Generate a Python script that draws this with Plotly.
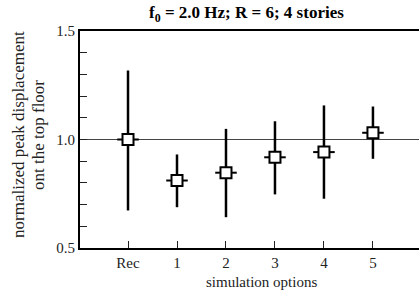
import plotly.graph_objects as go

categories = ["Rec", "1", "2", "3", "4", "5"]
centers = [1.0, 0.811, 0.847, 0.918, 0.942, 1.031]
upper = [1.318, 0.931, 1.049, 1.084, 1.157, 1.152]
lower = [0.673, 0.688, 0.642, 0.747, 0.727, 0.911]

xpos = list(range(len(categories)))
plus = [u - c for u, c in zip(upper, centers)]
minus = [c - l for c, l in zip(centers, lower)]

FONT = "Liberation Serif, Times New Roman, serif"
W, H = 419, 293
L, R, T, B = 80, 0, 31, 45
PW, PH = W - L - R, H - T - B


def px(x):
    return (x - L) / PW


def py(y):
    return (H - B - y) / PH


fig = go.Figure()
fig.add_shape(type="line", xref="paper", x0=0, x1=1, yref="y", y0=1.0, y1=1.0,
              line=dict(color="#444", width=1), layer="below")
fig.add_trace(go.Scatter(
    x=xpos, y=centers, mode="markers",
    marker=dict(symbol="square", size=11, color="white", line=dict(color="black", width=2)),
    error_y=dict(type="data", symmetric=False, array=plus, arrayminus=minus,
                 color="black", thickness=2.5, width=0),
    error_x=dict(type="constant", value=0.22, color="black", thickness=2, width=0),
    showlegend=False, cliponaxis=False, hoverinfo="skip",
))

ann = dict(xref="paper", yref="paper", showarrow=False, xanchor="center", yanchor="middle")
fig.add_annotation(text="<b>f<sub>0</sub> = 2.0 Hz; R = 6; 4 stories</b>",
                   x=px(246), y=py(14), font=dict(family=FONT, size=17, color="black"), **ann)
fig.add_annotation(text="simulation options", x=px(261), y=py(282),
                   font=dict(family=FONT, size=15, color="#222"), **ann)
fig.add_annotation(text="normalized peak displacement", x=px(18), y=py(135), textangle=-90,
                   font=dict(family=FONT, size=17, color="#222"), **ann)
fig.add_annotation(text="ont the top floor", x=px(38), y=py(135), textangle=-90,
                   font=dict(family=FONT, size=17, color="#222"), **ann)

fig.update_layout(
    width=W, height=H,
    margin=dict(l=L, r=R, t=T, b=B),
    paper_bgcolor="white", plot_bgcolor="white",
    font=dict(family=FONT, size=15, color="#222"),
    xaxis=dict(range=[-0.98, 5.94], tickvals=xpos, ticktext=categories,
               ticks="inside", ticklen=7, tickwidth=1, tickcolor="#222",
               showline=True, linewidth=2, linecolor="black", mirror=True,
               showgrid=False, zeroline=False),
    yaxis=dict(range=[0.5, 1.5], tickvals=[0.5, 1.0, 1.5], ticktext=["0.5", "1.0", "1.5"],
               ticks="inside", ticklen=7, tickwidth=1, tickcolor="#222",
               minor=dict(dtick=0.1, tick0=0.5, ticks="inside", ticklen=7,
                          tickwidth=1, tickcolor="#222"),
               showline=True, linewidth=2, linecolor="black",
               showgrid=False, zeroline=False),
)

fig.write_html("out.html", config={"displayModeBar": False},
               post_script="document.body.style.margin='0';")
